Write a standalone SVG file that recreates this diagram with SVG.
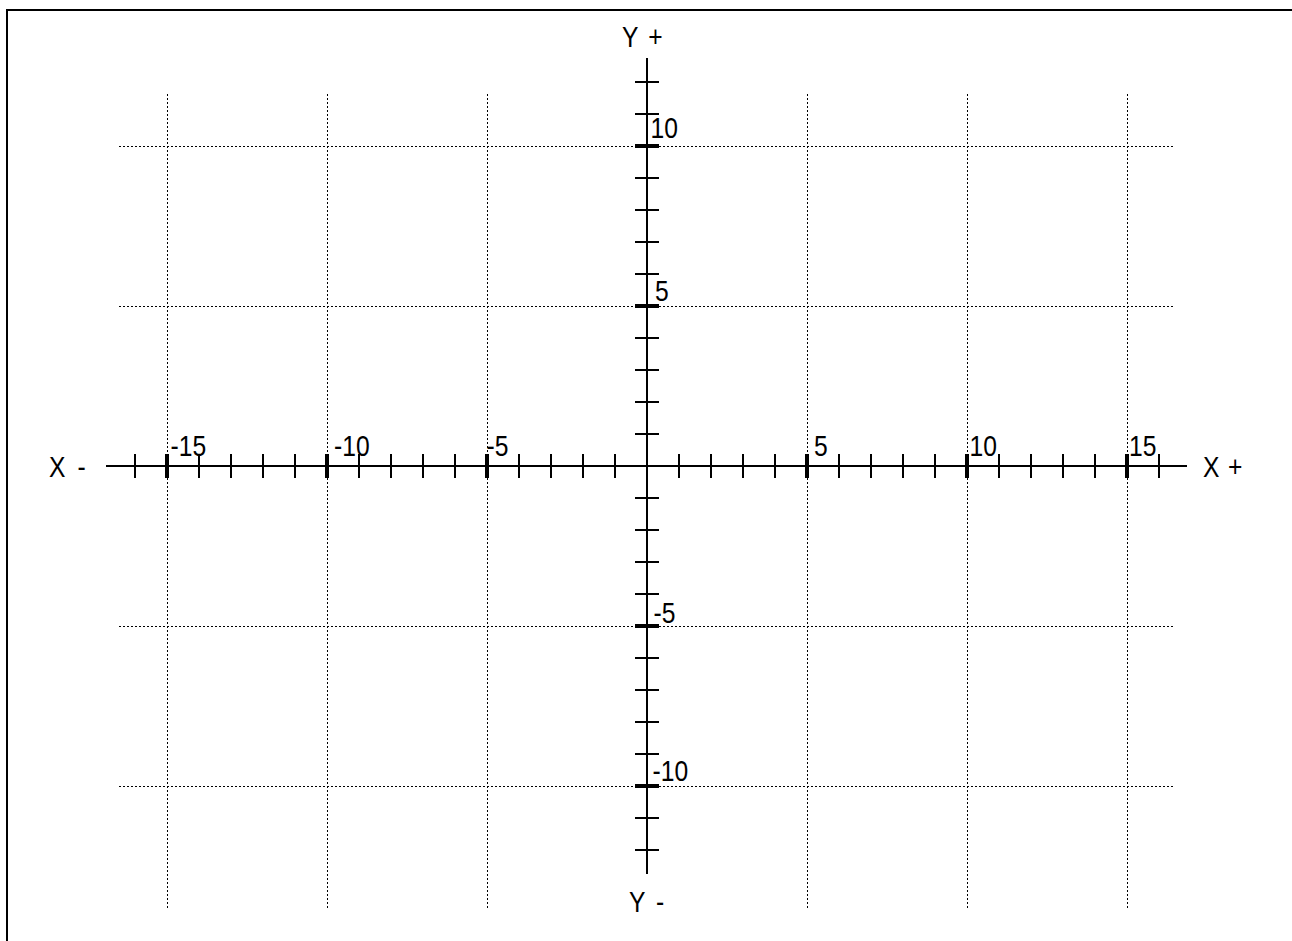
<svg xmlns="http://www.w3.org/2000/svg" width="1292" height="941" viewBox="0 0 1292 941">
<style>
.grid{stroke:#000;stroke-width:1;stroke-dasharray:2,2;fill:none}
.axis{stroke:#000;stroke-width:2;fill:none}
.tick{stroke:#000;stroke-width:2}
.major{stroke:#000;stroke-width:4}
.lbl{font-family:"Liberation Sans",Arial,sans-serif;font-size:29px;fill:#000}
</style>
<rect x="7" y="10" width="1400" height="1000" fill="#fff" stroke="#000" stroke-width="2"/>
<g id="grid">
<line class="grid" x1="167.5" y1="94" x2="167.5" y2="909"/>
<line class="grid" x1="327.5" y1="94" x2="327.5" y2="909"/>
<line class="grid" x1="487.5" y1="94" x2="487.5" y2="909"/>
<line class="grid" x1="807.5" y1="94" x2="807.5" y2="909"/>
<line class="grid" x1="967.5" y1="94" x2="967.5" y2="909"/>
<line class="grid" x1="1127.5" y1="94" x2="1127.5" y2="909"/>
<line class="grid" x1="119" y1="146.5" x2="1174" y2="146.5"/>
<line class="grid" x1="119" y1="306.5" x2="1174" y2="306.5"/>
<line class="grid" x1="119" y1="626.5" x2="1174" y2="626.5"/>
<line class="grid" x1="119" y1="786.5" x2="1174" y2="786.5"/>
</g>
<g id="connectors">
<line id="x-axis" class="axis" x1="106" y1="466" x2="1187" y2="466"/>
<line id="y-axis" class="axis" x1="647" y1="58" x2="647" y2="874"/>
<g id="x-ticks">
<line class="tick" x1="135" y1="454" x2="135" y2="478"/>
<line class="major" x1="167" y1="454" x2="167" y2="478"/>
<line class="tick" x1="199" y1="454" x2="199" y2="478"/>
<line class="tick" x1="231" y1="454" x2="231" y2="478"/>
<line class="tick" x1="263" y1="454" x2="263" y2="478"/>
<line class="tick" x1="295" y1="454" x2="295" y2="478"/>
<line class="major" x1="327" y1="454" x2="327" y2="478"/>
<line class="tick" x1="359" y1="454" x2="359" y2="478"/>
<line class="tick" x1="391" y1="454" x2="391" y2="478"/>
<line class="tick" x1="423" y1="454" x2="423" y2="478"/>
<line class="tick" x1="455" y1="454" x2="455" y2="478"/>
<line class="major" x1="487" y1="454" x2="487" y2="478"/>
<line class="tick" x1="519" y1="454" x2="519" y2="478"/>
<line class="tick" x1="551" y1="454" x2="551" y2="478"/>
<line class="tick" x1="583" y1="454" x2="583" y2="478"/>
<line class="tick" x1="615" y1="454" x2="615" y2="478"/>
<line class="tick" x1="679" y1="454" x2="679" y2="478"/>
<line class="tick" x1="711" y1="454" x2="711" y2="478"/>
<line class="tick" x1="743" y1="454" x2="743" y2="478"/>
<line class="tick" x1="775" y1="454" x2="775" y2="478"/>
<line class="major" x1="807" y1="454" x2="807" y2="478"/>
<line class="tick" x1="839" y1="454" x2="839" y2="478"/>
<line class="tick" x1="871" y1="454" x2="871" y2="478"/>
<line class="tick" x1="903" y1="454" x2="903" y2="478"/>
<line class="tick" x1="935" y1="454" x2="935" y2="478"/>
<line class="major" x1="967" y1="454" x2="967" y2="478"/>
<line class="tick" x1="999" y1="454" x2="999" y2="478"/>
<line class="tick" x1="1031" y1="454" x2="1031" y2="478"/>
<line class="tick" x1="1063" y1="454" x2="1063" y2="478"/>
<line class="tick" x1="1095" y1="454" x2="1095" y2="478"/>
<line class="major" x1="1127" y1="454" x2="1127" y2="478"/>
<line class="tick" x1="1159" y1="454" x2="1159" y2="478"/>
</g>
<g id="y-ticks">
<line class="tick" x1="635" y1="82" x2="659" y2="82"/>
<line class="tick" x1="635" y1="114" x2="659" y2="114"/>
<line class="major" x1="635" y1="146" x2="659" y2="146"/>
<line class="tick" x1="635" y1="178" x2="659" y2="178"/>
<line class="tick" x1="635" y1="210" x2="659" y2="210"/>
<line class="tick" x1="635" y1="242" x2="659" y2="242"/>
<line class="tick" x1="635" y1="274" x2="659" y2="274"/>
<line class="major" x1="635" y1="306" x2="659" y2="306"/>
<line class="tick" x1="635" y1="338" x2="659" y2="338"/>
<line class="tick" x1="635" y1="370" x2="659" y2="370"/>
<line class="tick" x1="635" y1="402" x2="659" y2="402"/>
<line class="tick" x1="635" y1="434" x2="659" y2="434"/>
<line class="tick" x1="635" y1="466" x2="659" y2="466"/>
<line class="tick" x1="635" y1="498" x2="659" y2="498"/>
<line class="tick" x1="635" y1="530" x2="659" y2="530"/>
<line class="tick" x1="635" y1="562" x2="659" y2="562"/>
<line class="tick" x1="635" y1="594" x2="659" y2="594"/>
<line class="major" x1="635" y1="626" x2="659" y2="626"/>
<line class="tick" x1="635" y1="658" x2="659" y2="658"/>
<line class="tick" x1="635" y1="690" x2="659" y2="690"/>
<line class="tick" x1="635" y1="722" x2="659" y2="722"/>
<line class="tick" x1="635" y1="754" x2="659" y2="754"/>
<line class="major" x1="635" y1="786" x2="659" y2="786"/>
<line class="tick" x1="635" y1="818" x2="659" y2="818"/>
<line class="tick" x1="635" y1="850" x2="659" y2="850"/>
</g>
</g>
<g id="axis-labels">
<text id="x-minus" class="lbl" transform="translate(49 477) scale(0.85 1)" word-spacing="6">X -</text>
<text id="x-plus" class="lbl" transform="translate(1203 477) scale(0.85 1)" word-spacing="2">X +</text>
<text id="y-plus" class="lbl" transform="translate(622 47) scale(0.85 1)" word-spacing="4">Y +</text>
<text id="y-minus" class="lbl" transform="translate(629 912) scale(0.85 1)" word-spacing="5">Y -</text>
</g>
<g id="tick-labels">
<text class="lbl" transform="translate(170.5 456) scale(0.85 1)">-15</text>
<text class="lbl" transform="translate(334 456) scale(0.85 1)">-10</text>
<text class="lbl" transform="translate(486.5 456) scale(0.85 1)">-5</text>
<text class="lbl" transform="translate(814 456) scale(0.85 1)">5</text>
<text class="lbl" transform="translate(969.5 456) scale(0.85 1)">10</text>
<text class="lbl" transform="translate(1129 456) scale(0.85 1)">15</text>
<text class="lbl" transform="translate(650.5 138) scale(0.85 1)">10</text>
<text class="lbl" transform="translate(655 301) scale(0.85 1)">5</text>
<text class="lbl" transform="translate(653.5 623) scale(0.85 1)">-5</text>
<text class="lbl" transform="translate(652.5 781) scale(0.85 1)">-10</text>
</g>
</svg>
